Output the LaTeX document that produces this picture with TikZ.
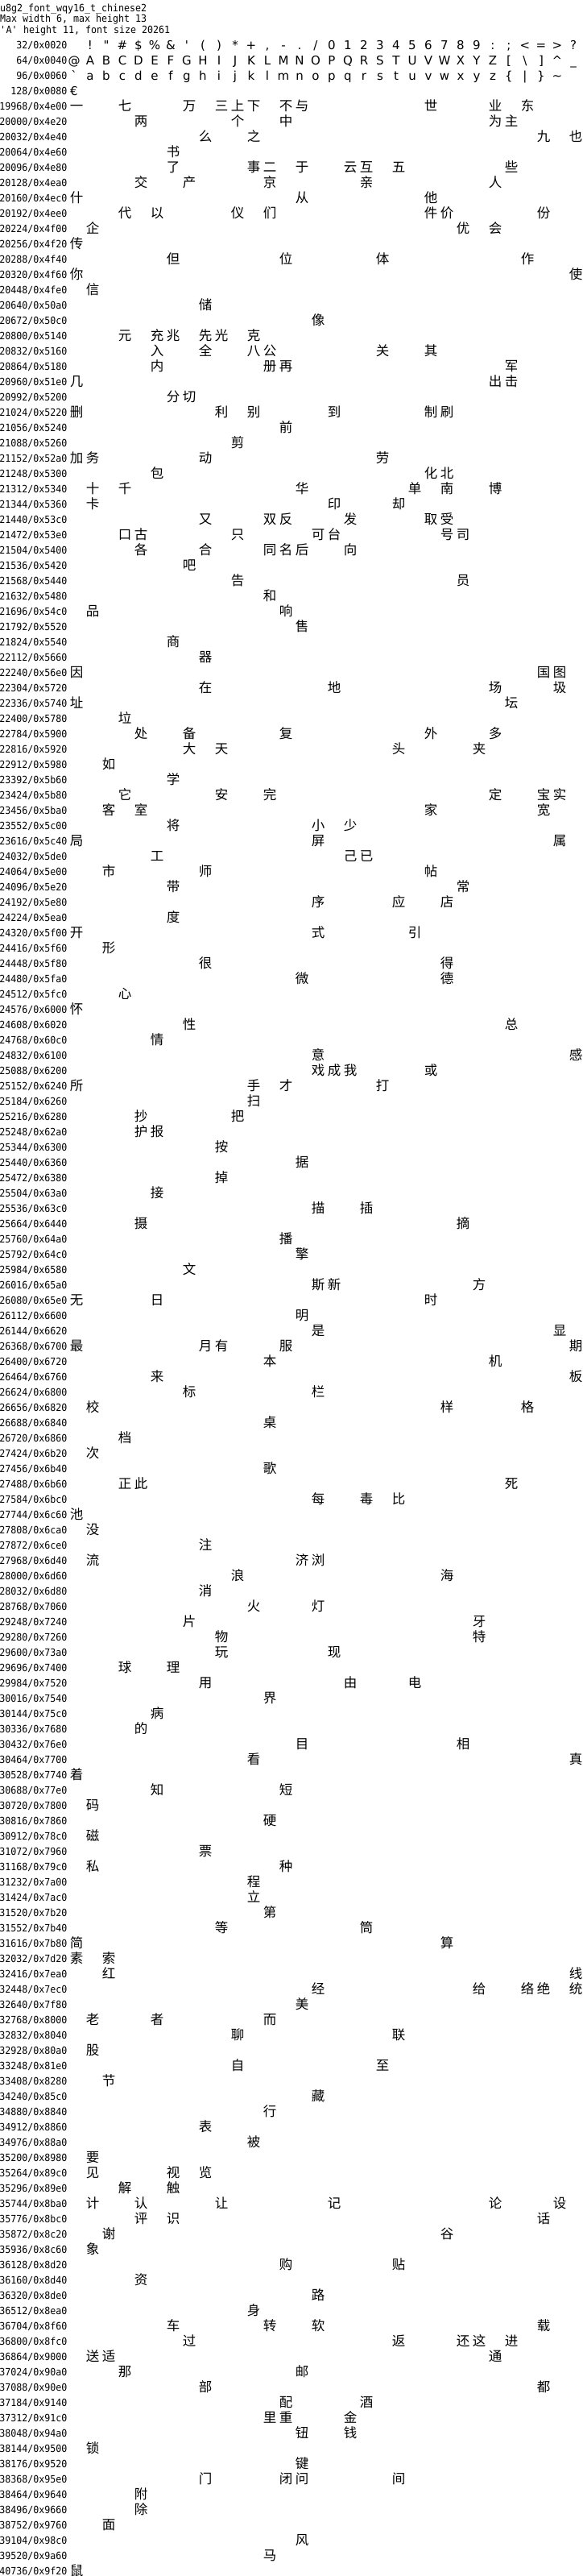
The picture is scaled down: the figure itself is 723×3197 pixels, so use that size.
\documentclass[tikz,border=0pt]{standalone}
\usepackage{fontspec}
\newfontfamily\labfont[FakeStretch=0.93]{DejaVu Sans Mono}
\newfontfamily\ascfont{DejaVu Sans}
\newfontfamily\cjkfont{Noto Sans CJK SC}
\tikzset{
  lab/.style={anchor=base east, inner sep=0pt, font=\labfont\fontsize{12.5}{14}\selectfont},
  hdr/.style={anchor=base west, inner sep=0pt, font=\labfont\fontsize{12.5}{14}\selectfont},
  asc/.style={anchor=base, inner sep=0pt, font=\ascfont\fontsize{15}{16}\selectfont},
  cjk/.style={anchor=base, inner sep=0pt, font=\cjkfont\fontsize{16.5}{18}\selectfont},
}
\newcommand\cjkrow[3]{%
  \pgfmathsetmacro\ry{55+19*#1}%
  \node[lab] (L#1) at (83.5,{\ry+5}) {#2};%
  \foreach \cc in {#3}{%
    \edef\cp{\number\expandafter`\cc}%
    \edef\col{\the\numexpr\cp-32*((\cp-16)/32)\relax}%
    \node[cjk] (U\cp) at ({95+20*\col},{\ry+6}) {\cc};%
  }%
}
\begin{document}
\begin{tikzpicture}[x=1pt,y=-1pt]
\path[fill=white,use as bounding box] (0,0) rectangle (723,3197);
% header
\node[hdr] (h1) at (0,14) {u8g2\_font\_wqy16\_t\_chinese2};
\node[hdr] (h2) at (0,27.5) {Max width 6, max height 13};
\node[hdr] (h3) at (0,41) {\textquotesingle A\textquotesingle{} height 11, font size 20261};
% ascii rows
\node[lab] (L0) at (83.5,60) {32/0x0020};
\foreach \i in {1,...,31}{\pgfmathtruncatemacro\cc{32+\i}\node[asc] (A\cc) at ({92+20*\i},61) {\char\cc\relax};}
\node[lab] (L1) at (83.5,79) {64/0x0040};
\foreach \i in {0,...,31}{\pgfmathtruncatemacro\cc{64+\i}\node[asc] (A\cc) at ({92+20*\i},80) {\char\cc\relax};}
\node[lab] (L2) at (83.5,98) {96/0x0060};
\foreach \i in {0,...,30}{\pgfmathtruncatemacro\cc{96+\i}\node[asc] (A\cc) at ({92+20*\i},99) {\char\cc\relax};}
\node[lab] (L3) at (83.5,117) {128/0x0080};
\node[asc] (A128) at (92,118) {€};
% cjk rows
\cjkrow{4}{19968/0x4e00}{一,七,万,三,上,下,不,与,世,业,东}
\cjkrow{5}{20000/0x4e20}{两,个,中,为,主}
\cjkrow{6}{20032/0x4e40}{么,之,九,也}
\cjkrow{7}{20064/0x4e60}{书}
\cjkrow{8}{20096/0x4e80}{了,事,二,于,云,互,五,些}
\cjkrow{9}{20128/0x4ea0}{交,产,京,亲,人}
\cjkrow{10}{20160/0x4ec0}{什,从,他}
\cjkrow{11}{20192/0x4ee0}{代,以,仪,们,件,价,份}
\cjkrow{12}{20224/0x4f00}{企,优,会}
\cjkrow{13}{20256/0x4f20}{传}
\cjkrow{14}{20288/0x4f40}{但,位,体,作}
\cjkrow{15}{20320/0x4f60}{你,使}
\cjkrow{16}{20448/0x4fe0}{信}
\cjkrow{17}{20640/0x50a0}{储}
\cjkrow{18}{20672/0x50c0}{像}
\cjkrow{19}{20800/0x5140}{元,充,兆,先,光,克}
\cjkrow{20}{20832/0x5160}{入,全,八,公,关,其}
\cjkrow{21}{20864/0x5180}{内,册,再,军}
\cjkrow{22}{20960/0x51e0}{几,出,击}
\cjkrow{23}{20992/0x5200}{分,切}
\cjkrow{24}{21024/0x5220}{删,利,别,到,制,刷}
\cjkrow{25}{21056/0x5240}{前}
\cjkrow{26}{21088/0x5260}{剪}
\cjkrow{27}{21152/0x52a0}{加,务,动,劳}
\cjkrow{28}{21248/0x5300}{包,化,北}
\cjkrow{29}{21312/0x5340}{十,千,华,单,南,博}
\cjkrow{30}{21344/0x5360}{卡,印,却}
\cjkrow{31}{21440/0x53c0}{又,双,反,发,取,受}
\cjkrow{32}{21472/0x53e0}{口,古,只,可,台,号,司}
\cjkrow{33}{21504/0x5400}{各,合,同,名,后,向}
\cjkrow{34}{21536/0x5420}{吧}
\cjkrow{35}{21568/0x5440}{告,员}
\cjkrow{36}{21632/0x5480}{和}
\cjkrow{37}{21696/0x54c0}{品,响}
\cjkrow{38}{21792/0x5520}{售}
\cjkrow{39}{21824/0x5540}{商}
\cjkrow{40}{22112/0x5660}{器}
\cjkrow{41}{22240/0x56e0}{因,国,图}
\cjkrow{42}{22304/0x5720}{在,地,场,圾}
\cjkrow{43}{22336/0x5740}{址,坛}
\cjkrow{44}{22400/0x5780}{垃}
\cjkrow{45}{22784/0x5900}{处,备,复,外,多}
\cjkrow{46}{22816/0x5920}{大,天,头,夹}
\cjkrow{47}{22912/0x5980}{如}
\cjkrow{48}{23392/0x5b60}{学}
\cjkrow{49}{23424/0x5b80}{它,安,完,定,宝,实}
\cjkrow{50}{23456/0x5ba0}{客,室,家,宽}
\cjkrow{51}{23552/0x5c00}{将,小,少}
\cjkrow{52}{23616/0x5c40}{局,屏,属}
\cjkrow{53}{24032/0x5de0}{工,己,已}
\cjkrow{54}{24064/0x5e00}{市,师,帖}
\cjkrow{55}{24096/0x5e20}{带,常}
\cjkrow{56}{24192/0x5e80}{序,应,店}
\cjkrow{57}{24224/0x5ea0}{度}
\cjkrow{58}{24320/0x5f00}{开,式,引}
\cjkrow{59}{24416/0x5f60}{形}
\cjkrow{60}{24448/0x5f80}{很,得}
\cjkrow{61}{24480/0x5fa0}{微,德}
\cjkrow{62}{24512/0x5fc0}{心}
\cjkrow{63}{24576/0x6000}{怀}
\cjkrow{64}{24608/0x6020}{性,总}
\cjkrow{65}{24768/0x60c0}{情}
\cjkrow{66}{24832/0x6100}{意,感}
\cjkrow{67}{25088/0x6200}{戏,成,我,或}
\cjkrow{68}{25152/0x6240}{所,手,才,打}
\cjkrow{69}{25184/0x6260}{扫}
\cjkrow{70}{25216/0x6280}{抄,把}
\cjkrow{71}{25248/0x62a0}{护,报}
\cjkrow{72}{25344/0x6300}{按}
\cjkrow{73}{25440/0x6360}{据}
\cjkrow{74}{25472/0x6380}{掉}
\cjkrow{75}{25504/0x63a0}{接}
\cjkrow{76}{25536/0x63c0}{描,插}
\cjkrow{77}{25664/0x6440}{摄,摘}
\cjkrow{78}{25760/0x64a0}{播}
\cjkrow{79}{25792/0x64c0}{擎}
\cjkrow{80}{25984/0x6580}{文}
\cjkrow{81}{26016/0x65a0}{斯,新,方}
\cjkrow{82}{26080/0x65e0}{无,日,时}
\cjkrow{83}{26112/0x6600}{明}
\cjkrow{84}{26144/0x6620}{是,显}
\cjkrow{85}{26368/0x6700}{最,月,有,服,期}
\cjkrow{86}{26400/0x6720}{本,机}
\cjkrow{87}{26464/0x6760}{来,板}
\cjkrow{88}{26624/0x6800}{标,栏}
\cjkrow{89}{26656/0x6820}{校,样,格}
\cjkrow{90}{26688/0x6840}{桌}
\cjkrow{91}{26720/0x6860}{档}
\cjkrow{92}{27424/0x6b20}{次}
\cjkrow{93}{27456/0x6b40}{歌}
\cjkrow{94}{27488/0x6b60}{正,此,死}
\cjkrow{95}{27584/0x6bc0}{每,毒,比}
\cjkrow{96}{27744/0x6c60}{池}
\cjkrow{97}{27808/0x6ca0}{没}
\cjkrow{98}{27872/0x6ce0}{注}
\cjkrow{99}{27968/0x6d40}{流,济,浏}
\cjkrow{100}{28000/0x6d60}{浪,海}
\cjkrow{101}{28032/0x6d80}{消}
\cjkrow{102}{28768/0x7060}{火,灯}
\cjkrow{103}{29248/0x7240}{片,牙}
\cjkrow{104}{29280/0x7260}{物,特}
\cjkrow{105}{29600/0x73a0}{玩,现}
\cjkrow{106}{29696/0x7400}{球,理}
\cjkrow{107}{29984/0x7520}{用,由,电}
\cjkrow{108}{30016/0x7540}{界}
\cjkrow{109}{30144/0x75c0}{病}
\cjkrow{110}{30336/0x7680}{的}
\cjkrow{111}{30432/0x76e0}{目,相}
\cjkrow{112}{30464/0x7700}{看,真}
\cjkrow{113}{30528/0x7740}{着}
\cjkrow{114}{30688/0x77e0}{知,短}
\cjkrow{115}{30720/0x7800}{码}
\cjkrow{116}{30816/0x7860}{硬}
\cjkrow{117}{30912/0x78c0}{磁}
\cjkrow{118}{31072/0x7960}{票}
\cjkrow{119}{31168/0x79c0}{私,种}
\cjkrow{120}{31232/0x7a00}{程}
\cjkrow{121}{31424/0x7ac0}{立}
\cjkrow{122}{31520/0x7b20}{第}
\cjkrow{123}{31552/0x7b40}{等,筒}
\cjkrow{124}{31616/0x7b80}{简,算}
\cjkrow{125}{32032/0x7d20}{素,索}
\cjkrow{126}{32416/0x7ea0}{红,线}
\cjkrow{127}{32448/0x7ec0}{经,给,络,绝,统}
\cjkrow{128}{32640/0x7f80}{美}
\cjkrow{129}{32768/0x8000}{老,者,而}
\cjkrow{130}{32832/0x8040}{聊,联}
\cjkrow{131}{32928/0x80a0}{股}
\cjkrow{132}{33248/0x81e0}{自,至}
\cjkrow{133}{33408/0x8280}{节}
\cjkrow{134}{34240/0x85c0}{藏}
\cjkrow{135}{34880/0x8840}{行}
\cjkrow{136}{34912/0x8860}{表}
\cjkrow{137}{34976/0x88a0}{被}
\cjkrow{138}{35200/0x8980}{要}
\cjkrow{139}{35264/0x89c0}{见,视,览}
\cjkrow{140}{35296/0x89e0}{解,触}
\cjkrow{141}{35744/0x8ba0}{计,认,让,记,论,设}
\cjkrow{142}{35776/0x8bc0}{评,识,话}
\cjkrow{143}{35872/0x8c20}{谢,谷}
\cjkrow{144}{35936/0x8c60}{象}
\cjkrow{145}{36128/0x8d20}{购,贴}
\cjkrow{146}{36160/0x8d40}{资}
\cjkrow{147}{36320/0x8de0}{路}
\cjkrow{148}{36512/0x8ea0}{身}
\cjkrow{149}{36704/0x8f60}{车,转,软,载}
\cjkrow{150}{36800/0x8fc0}{过,返,还,这,进}
\cjkrow{151}{36864/0x9000}{送,适,通}
\cjkrow{152}{37024/0x90a0}{那,邮}
\cjkrow{153}{37088/0x90e0}{部,都}
\cjkrow{154}{37184/0x9140}{配,酒}
\cjkrow{155}{37312/0x91c0}{里,重,金}
\cjkrow{156}{38048/0x94a0}{钮,钱}
\cjkrow{157}{38144/0x9500}{锁}
\cjkrow{158}{38176/0x9520}{键}
\cjkrow{159}{38368/0x95e0}{门,闭,问,间}
\cjkrow{160}{38464/0x9640}{附}
\cjkrow{161}{38496/0x9660}{除}
\cjkrow{162}{38752/0x9760}{面}
\cjkrow{163}{39104/0x98c0}{风}
\cjkrow{164}{39520/0x9a60}{马}
\cjkrow{165}{40736/0x9f20}{鼠}
\end{tikzpicture}
\end{document}
